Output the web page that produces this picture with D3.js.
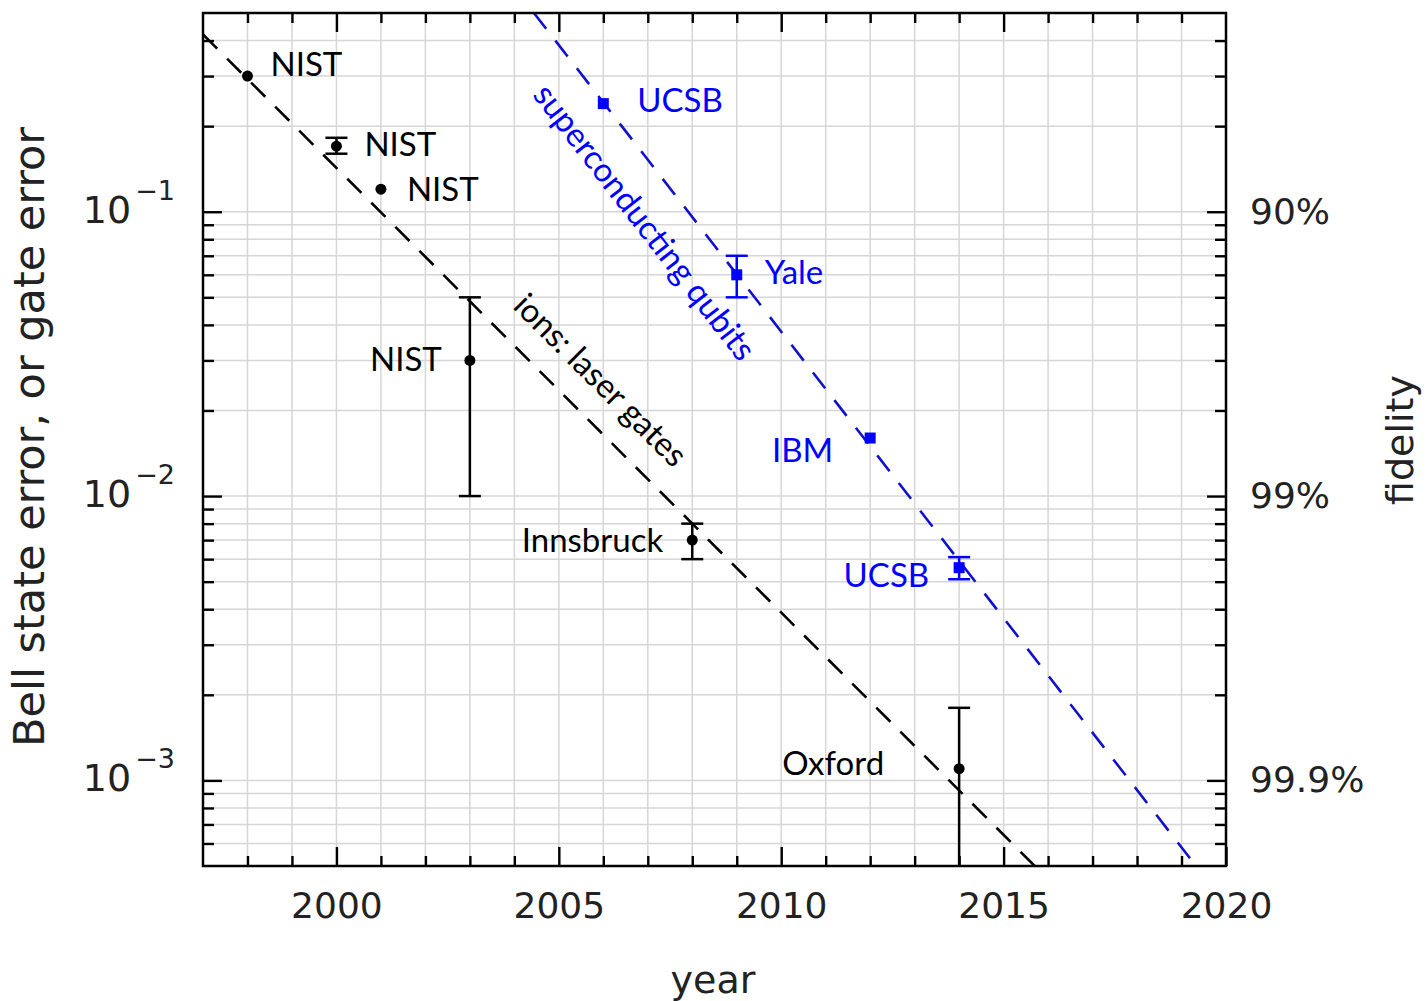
<!DOCTYPE html>
<html>
<head>
<meta charset="utf-8">
<script src="https://cdn.jsdelivr.net/npm/d3@7"></script>
<style>
  body { margin: 0; background: #fff; }
  .axisfont { font-family: "DejaVu Sans", sans-serif; fill: #222; }
  .lbl { font-family: Lato, "Open Sans", sans-serif; font-size: 33px; }
</style>
</head>
<body>
<div id="chart"></div>
<script>
// ---- data ----
var xTickYears = [2000, 2005, 2010, 2015, 2020];
var yTickExponents = [-1, -2, -3];
var fidelityLabels = ["90%", "99%", "99.9%"];

// ion trap points (black)
var ionYears  = [1998, 2000, 2001, 2003, 2008, 2014];
var ionErr    = [0.30, 0.17, 0.12, 0.03, 0.007, 0.0011];
var ionErrLo  = [null, 0.160, null, 0.010, 0.006, 0.0004];
var ionErrHi  = [null, 0.182, null, 0.050, 0.008, 0.0018];
var ionNames  = ["NIST", "NIST", "NIST", "NIST", "Innsbruck", "Oxford"];

// superconducting points (blue)
var scYears   = [2006, 2009, 2012, 2014];
var scErr     = [0.24, 0.06, 0.016, 0.0056];
var scErrLo   = [null, 0.050, null, 0.0051];
var scErrHi   = [null, 0.070, null, 0.0061];
var scNames   = ["UCSB", "Yale", "IBM", "UCSB"];

// dashed trend lines
var ionTrendYears = [1997, 2015.7];
var ionTrendErr   = [0.42, 0.0005];
var scTrendYears  = [2004.44, 2019.2];
var scTrendErr    = [0.5, 0.00053];

// ---- layout ----
var margin = {top: 13, right: 202, bottom: 135, left: 203},
    width = 1428 - margin.left - margin.right,
    height = 1001 - margin.top - margin.bottom;

var black = "#000", blue = "#0000ff", blueLine = "#1111cc", gridCol = "#d6d6d6";

var x = d3.scaleLinear().domain([1997, 2020]).range([0, width]);
var y = d3.scaleLog().domain([5e-4, 0.5]).range([height, 0]);

var svg = d3.select("#chart").append("svg")
    .attr("width", 1428)
    .attr("height", 1001);

var g = svg.append("g")
    .attr("transform", "translate(" + margin.left + "," + margin.top + ")");

g.append("clipPath").attr("id", "plotclip")
  .append("rect").attr("width", width).attr("height", height);

var years = d3.range(1998, 2020);
var logTicks = y.ticks().filter(function(d) { return d > 5.01e-4 && d < 0.499; });
var majorLog = logTicks.filter(function(d) {
  return Math.abs(Math.log10(d) - Math.round(Math.log10(d))) < 1e-6;
});
var minorLog = logTicks.filter(function(d) { return majorLog.indexOf(d) < 0; });

// grid
g.append("g").selectAll("line").data(years).enter().append("line")
  .attr("x1", function(d) { return x(d); }).attr("x2", function(d) { return x(d); })
  .attr("y1", 0).attr("y2", height)
  .attr("stroke", gridCol).attr("stroke-width", 1.5);
g.append("g").selectAll("line").data(logTicks).enter().append("line")
  .attr("x1", 0).attr("x2", width)
  .attr("y1", function(d) { return y(d); }).attr("y2", function(d) { return y(d); })
  .attr("stroke", gridCol).attr("stroke-width", 1.5);

// axes (ticks point inward)
function styleAxis(sel) {
  sel.select(".domain").remove();
  sel.selectAll(".tick line").attr("stroke", black).attr("stroke-width", 2.4);
}
var minorYears = d3.range(1998, 2020).filter(function(d) { return d % 5 != 0; });

g.append("g").attr("transform", "translate(0," + height + ")")
  .call(d3.axisBottom(x).tickValues(minorYears).tickSize(-10).tickFormat(""))
  .call(styleAxis);
var xMaj = g.append("g").attr("transform", "translate(0," + height + ")")
  .call(d3.axisBottom(x).tickValues(xTickYears).tickSize(-19).tickPadding(26).tickFormat(d3.format("d")))
  .call(styleAxis);
xMaj.selectAll("text").attr("class", "axisfont").attr("font-size", 36).attr("dy", "0.71em");

g.append("g")
  .call(d3.axisTop(x).tickValues(minorYears).tickSize(-10).tickFormat(""))
  .call(styleAxis);
g.append("g")
  .call(d3.axisTop(x).tickValues(xTickYears.filter(function(d) { return d < 2020; })).tickSize(-19).tickFormat(""))
  .call(styleAxis);

g.append("g").call(d3.axisLeft(y).tickValues(minorLog).tickSize(-11).tickFormat("")).call(styleAxis);
g.append("g").call(d3.axisLeft(y).tickValues(majorLog).tickSize(-19).tickFormat("")).call(styleAxis);
g.append("g").attr("transform", "translate(" + width + ",0)")
  .call(d3.axisRight(y).tickValues(minorLog).tickSize(-11).tickFormat("")).call(styleAxis);
g.append("g").attr("transform", "translate(" + width + ",0)")
  .call(d3.axisRight(y).tickValues(majorLog).tickSize(-19).tickFormat("")).call(styleAxis);

// left tick labels 10^-n
yTickExponents.forEach(function(e) {
  var t = g.append("text").attr("class", "axisfont")
    .attr("x", -28).attr("y", y(Math.pow(10, e)) + 11)
    .attr("text-anchor", "end");
  t.append("tspan").attr("font-size", 38).text("10");
  t.append("tspan").attr("font-size", 27).attr("dy", -23).attr("dx", 4).text("\u2212" + (-e));
});

// right tick labels
fidelityLabels.forEach(function(lab, i) {
  g.append("text").attr("class", "axisfont")
    .attr("x", width + 24).attr("y", y(Math.pow(10, yTickExponents[i])) + 12)
    .attr("font-size", 36)
    .text(lab);
});

// axis titles
svg.append("text").attr("class", "axisfont")
  .attr("x", 713).attr("y", 993).attr("text-anchor", "middle")
  .attr("font-size", 38).text("year");
svg.append("text").attr("class", "axisfont")
  .attr("transform", "translate(44,437) rotate(-90)")
  .attr("text-anchor", "middle").attr("font-size", 43)
  .text("Bell state error, or gate error");
svg.append("text").attr("class", "axisfont")
  .attr("transform", "translate(1413,440) rotate(-90)")
  .attr("text-anchor", "middle").attr("font-size", 38)
  .text("fidelity");

// trend lines
var line = d3.line()
  .x(function(d) { return x(d[0]); })
  .y(function(d) { return y(d[1]); });

var plot = g.append("g").attr("clip-path", "url(#plotclip)");

plot.append("path")
  .attr("d", line(d3.zip(ionTrendYears, ionTrendErr)))
  .attr("fill", "none").attr("stroke", black)
  .attr("stroke-width", 2.6).attr("stroke-dasharray", "20,14");
plot.append("path")
  .attr("d", line(d3.zip(scTrendYears, scTrendErr)))
  .attr("fill", "none").attr("stroke", blueLine)
  .attr("stroke-width", 2.6).attr("stroke-dasharray", "20,15");

// error bars
function errorBars(yearsArr, lo, hi, col) {
  yearsArr.forEach(function(yr, i) {
    if (lo[i] == null) return;
    var cx = x(yr);
    plot.append("line").attr("x1", cx).attr("x2", cx)
      .attr("y1", y(lo[i])).attr("y2", y(hi[i]))
      .attr("stroke", col).attr("stroke-width", 2.5);
    [lo[i], hi[i]].forEach(function(v) {
      if (v < y.domain()[0]) return;
      plot.append("line").attr("x1", cx - 11).attr("x2", cx + 11)
        .attr("y1", y(v)).attr("y2", y(v))
        .attr("stroke", col).attr("stroke-width", 2.5);
    });
  });
}
errorBars(ionYears, ionErrLo, ionErrHi, black);
errorBars(scYears, scErrLo, scErrHi, blue);

// markers
plot.selectAll(".ion").data(d3.zip(ionYears, ionErr)).enter().append("circle")
  .attr("cx", function(d) { return x(d[0]); })
  .attr("cy", function(d) { return y(d[1]); })
  .attr("r", 5.5).attr("fill", black);
plot.selectAll(".sc").data(d3.zip(scYears, scErr)).enter().append("rect")
  .attr("x", function(d) { return x(d[0]) - 5.5; })
  .attr("y", function(d) { return y(d[1]) - 5.5; })
  .attr("width", 11).attr("height", 11).attr("fill", blue);

// point labels: [dx, dy, anchor]
var ionLabelPos = [[23, -11, "start"], [28, -1, "start"], [26, 1, "start"],
                   [-28, 0, "end"], [-29, 1, "end"], [-75, -5, "end"]];
var scLabelPos  = [[34, -3, "start"], [28, -2, "start"], [-37, 13, "end"], [-30, 8, "end"]];

function pointLabels(yearsArr, errs, names, pos, col) {
  names.forEach(function(n, i) {
    g.append("text").attr("class", "lbl")
      .attr("x", x(yearsArr[i]) + pos[i][0])
      .attr("y", y(errs[i]) + pos[i][1] + 11)
      .attr("text-anchor", pos[i][2])
      .attr("fill", col)
      .text(n);
  });
}
pointLabels(ionYears, ionErr, ionNames, ionLabelPos, black);
pointLabels(scYears, scErr, scNames, scLabelPos, blue);

// rotated trend labels, angle taken from the trend line itself
function slopeAngle(ys, es) {
  return Math.atan2(y(es[1]) - y(es[0]), x(ys[1]) - x(ys[0])) * 180 / Math.PI;
}
g.append("text").attr("class", "lbl")
  .attr("transform", "translate(" + x(2006.93) + "," + y(0.092) + ") rotate(" + slopeAngle(scTrendYears, scTrendErr) + ")")
  .attr("text-anchor", "middle").attr("dy", "0.35em")
  .attr("fill", blue).text("superconducting qubits");
g.append("text").attr("class", "lbl")
  .attr("transform", "translate(" + x(2005.94) + "," + y(0.0256) + ") rotate(" + slopeAngle(ionTrendYears, ionTrendErr) + ")")
  .attr("text-anchor", "middle").attr("dy", "0.35em")
  .attr("fill", black).text("ions: laser gates");

// frame
g.append("rect").attr("width", width).attr("height", height)
  .attr("fill", "none").attr("stroke", black).attr("stroke-width", 2.5);
</script>
</body>
</html>
